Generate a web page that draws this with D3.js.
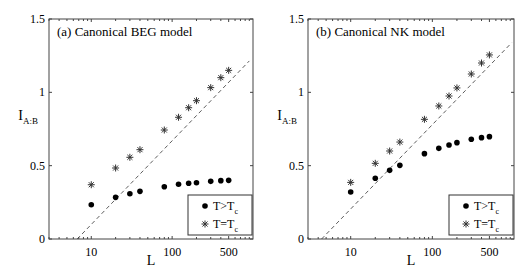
<!DOCTYPE html>
<html>
<head>
<meta charset="utf-8">
<script src="https://d3js.org/d3.v7.min.js"></script>
<style>
  body { margin: 0; background: #fff; }
  svg text { font-family: "Liberation Serif", "Times New Roman", serif; fill: #000; }
</style>
</head>
<body>
<div id="chart"></div>
<script>
// data
const sizesL = [10, 20, 30, 40, 80, 120, 160, 200, 300, 400, 500];

const begAbove = [0.234, 0.284, 0.309, 0.325, 0.356, 0.373, 0.380, 0.384, 0.393, 0.398, 0.400];
const begCrit  = [0.370, 0.484, 0.557, 0.609, 0.743, 0.830, 0.895, 0.943, 1.032, 1.100, 1.150];

const nkAbove = [0.320, 0.414, 0.468, 0.502, 0.582, 0.618, 0.641, 0.657, 0.680, 0.691, 0.698];
const nkCrit  = [0.386, 0.516, 0.600, 0.661, 0.816, 0.907, 0.975, 1.030, 1.125, 1.200, 1.255];

// dashed reference lines: endpoints [L, I]
const begLine = [[6.7, 0], [900, 1.214]];
const nkLine  = [[4.4, 0], [937, 1.338]];

const xTicks = [10, 100, 500];
const yTicks = [0, 0.5, 1, 1.5];
const legendNames = ["T>T", "T=T"];

const W = 525, H = 270;
const svg = d3.select("#chart").append("svg")
    .attr("width", W).attr("height", H);

const panels = [
    { title: "(a) Canonical BEG model", left: 49, right: 253, above: begAbove, crit: begCrit, line: begLine },
    { title: "(b) Canonical NK model", left: 308, right: 514, above: nkAbove, crit: nkCrit, line: nkLine }
];

const plotTop = 19, plotBottom = 239;
const axisColor = "#444";

// matlab style asterisk
function star(g, cx, cy, r) {
    const d = r * 0.72;
    g.append("path")
     .attr("d", `M${cx - r},${cy}H${cx + r}M${cx},${cy - r}V${cy + r}` +
                `M${cx - d},${cy - d}L${cx + d},${cy + d}M${cx - d},${cy + d}L${cx + d},${cy - d}`)
     .attr("stroke", "#333")
     .attr("stroke-width", 1)
     .attr("fill", "none");
}

panels.forEach(p => {
    const x = d3.scaleLog().domain([3, 1000]).range([p.left, p.right]);
    const y = d3.scaleLinear().domain([0, 1.5]).range([plotBottom, plotTop]);
    const g = svg.append("g");

    // minor log ticks (top and bottom, pointing inward)
    const minor = [];
    [1, 10, 100].forEach(dec => {
        for (let k = 1; k <= 9; k++) {
            const v = k * dec;
            if (v >= 3 && v <= 1000) minor.push(v);
        }
    });
    minor.forEach(v => {
        const big = xTicks.includes(v);
        const len = big ? 3 : 2;
        g.append("line").attr("x1", x(v)).attr("x2", x(v))
         .attr("y1", plotBottom).attr("y2", plotBottom - len)
         .attr("stroke", axisColor).attr("stroke-width", 1);
        g.append("line").attr("x1", x(v)).attr("x2", x(v))
         .attr("y1", plotTop).attr("y2", plotTop + len)
         .attr("stroke", axisColor).attr("stroke-width", 1);
    });

    // y ticks on both sides
    yTicks.forEach(v => {
        g.append("line").attr("x1", p.left).attr("x2", p.left + 3)
         .attr("y1", y(v)).attr("y2", y(v))
         .attr("stroke", axisColor);
        g.append("line").attr("x1", p.right).attr("x2", p.right - 3)
         .attr("y1", y(v)).attr("y2", y(v))
         .attr("stroke", axisColor);
        g.append("text")
         .attr("x", p.left - 4).attr("y", y(v) + 4)
         .attr("text-anchor", "end")
         .style("font-size", "12px")
         .text(v);
    });

    xTicks.forEach(v => {
        g.append("text")
         .attr("x", x(v)).attr("y", plotBottom + 17)
         .attr("text-anchor", "middle")
         .style("font-size", "12px")
         .text(v);
    });

    // box
    g.append("rect")
     .attr("x", p.left).attr("y", plotTop)
     .attr("width", p.right - p.left).attr("height", plotBottom - plotTop)
     .attr("fill", "none").attr("stroke", axisColor).attr("stroke-width", 1);

    // dashed line
    g.append("path")
     .attr("d", d3.line().x(d => x(d[0])).y(d => y(d[1]))(p.line))
     .attr("stroke", "#333").attr("stroke-width", 0.8)
     .attr("stroke-dasharray", "4,3").attr("fill", "none");

    // T>Tc dots
    g.selectAll(".dot").data(p.above).enter().append("circle")
     .attr("cx", (d, i) => x(sizesL[i]))
     .attr("cy", d => y(d))
     .attr("r", 2.8)
     .attr("fill", "#000");

    // T=Tc stars
    p.crit.forEach((d, i) => star(g, x(sizesL[i]), y(d), 3.5));

    // title
    g.append("text")
     .attr("x", p.left + 8).attr("y", plotTop + 17)
     .style("font-size", "13px")
     .text(p.title);

    // axis labels
    const yl = g.append("text")
     .attr("x", p.left - 11).attr("y", 120)
     .attr("text-anchor", "end")
     .style("font-size", "14px");
    yl.append("tspan").text("I");
    yl.append("tspan").attr("dy", 4).style("font-size", "9px").text("A:B");

    g.append("text")
     .attr("x", (p.left + p.right) / 2).attr("y", plotBottom + 26)
     .attr("text-anchor", "middle")
     .style("font-size", "14px")
     .text("L");

    // legend
    const lx = p.right - 65, ly = 195;
    g.append("rect")
     .attr("x", lx).attr("y", ly).attr("width", 64).attr("height", 40)
     .attr("fill", "#fff").attr("stroke", "#333");
    legendNames.forEach((name, i) => {
        const cy = ly + 11 + i * 18;
        if (i === 0) {
            g.append("circle").attr("cx", lx + 17).attr("cy", cy).attr("r", 2.8).attr("fill", "#000");
        } else {
            star(g, lx + 17, cy, 3.5);
        }
        const t = g.append("text")
         .attr("x", lx + 25).attr("y", cy + 4)
         .style("font-size", "12px");
        t.append("tspan").text(name);
        t.append("tspan").attr("dy", 4).style("font-size", "8px").text("c");
    });
});
</script>
</body>
</html>
